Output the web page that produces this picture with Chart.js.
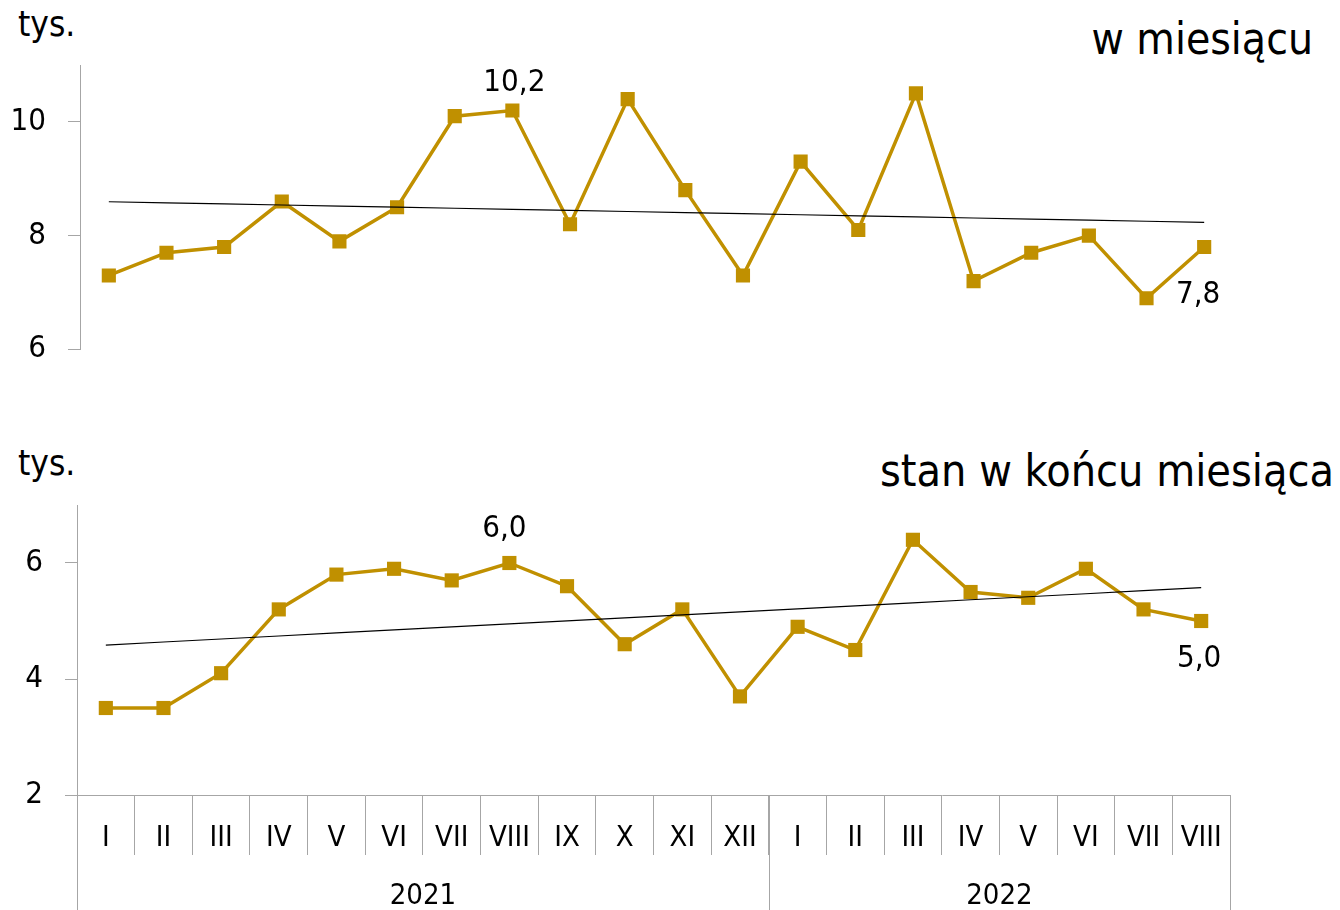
<!DOCTYPE html>
<html><head><meta charset="utf-8">
<script src="https://cdn.jsdelivr.net/npm/chart.js@4.4.1/dist/chart.umd.min.js"></script>
<style>
body{margin:0;width:1340px;height:910px;background:#fff;position:relative;overflow:hidden;font-family:'DejaVu Sans Condensed','Roboto',sans-serif;}
.t{position:absolute;color:#000;white-space:nowrap;line-height:1}
canvas{position:absolute;left:0}
</style></head><body>
<div class="t" style="left:18px;top:7px;font-size:35px">tys.</div>
<div class="t" style="right:27px;top:17px;font-size:44px">w miesiącu</div>
<div class="t" style="left:18px;top:446px;font-size:35px">tys.</div>
<div class="t" style="right:6px;top:449px;font-size:44.5px">stan w końcu miesiąca</div>
<canvas id="c1" width="1340" height="390" style="top:0"></canvas>
<canvas id="c2" width="1340" height="470" style="top:440px"></canvas>
<script>
const months = ['I','II','III','IV','V','VI','VII','VIII','IX','X','XI','XII','I','II','III','IV','V','VI','VII','VIII'];
const years = ['2021','2022'];
const monthsPerYear = [12, 8];
const monthly = [7.3,7.7,7.8,8.6,7.9,8.5,10.1,10.2,8.2,10.4,8.8,7.3,9.3,8.1,10.5,7.2,7.7,8.0,6.9,7.8];
const stock = [3.5,3.5,4.1,5.2,5.8,5.9,5.7,6.0,5.6,4.6,5.2,3.7,4.9,4.5,6.4,5.5,5.4,5.9,5.2,5.0];
const monthlyTicks = [6,8,10];
const stockTicks = [2,4,6];

const FONT = "'DejaVu Sans Condensed','Roboto',sans-serif";
const GOLD = '#C09000';
const AXIS = '#a6a6a6';

function trend(vals){
  const n = vals.length; let sx=0, sy=0, sxy=0, sxx=0;
  vals.forEach((v,i)=>{sx+=i; sy+=v; sxy+=i*v; sxx+=i*i;});
  const b = (n*sxy - sx*sy)/(n*sxx - sx*sx); const a = (sy - b*sx)/n;
  return vals.map((_,i)=>a+b*i);
}
const fmt = v => v.toFixed(1).replace('.', ',');

const labelPlugin = {
  id:'valLabels',
  afterDatasetsDraw(chart, args, opts){
    const ctx = chart.ctx; const meta = chart.getDatasetMeta(0);
    ctx.save(); ctx.fillStyle='#000'; ctx.font = opts.font; ctx.textAlign='center'; ctx.textBaseline='middle';
    (opts.items||[]).forEach(it=>{
      const p = meta.data[it.index];
      ctx.fillText(fmt(chart.data.datasets[0].data[it.index]), p.x+it.dx, p.y+it.dy);
    });
    ctx.restore();
  }
};

const yearPlugin = {
  id:'yearAxis',
  afterDraw(chart, args, opts){
    if(!opts.enabled) return;
    const ctx = chart.ctx, xs = chart.scales.x, area = chart.chartArea;
    const half = (xs.getPixelForValue(1)-xs.getPixelForValue(0))/2;
    const bottom = chart.height;
    ctx.save(); ctx.strokeStyle = AXIS; ctx.lineWidth = 1;
    ctx.beginPath();
    ctx.moveTo(Math.round(area.left)+0.5, area.bottom); ctx.lineTo(Math.round(area.left)+0.5, bottom);
    let idx = 0;
    ctx.fillStyle='#000'; ctx.font = opts.font; ctx.textAlign='center'; ctx.textBaseline='middle';
    years.forEach((y,k)=>{
      const start = xs.getPixelForValue(idx) - half;
      idx += monthsPerYear[k];
      const end = xs.getPixelForValue(idx-1) + half;
      ctx.moveTo(Math.round(end)+0.5, area.bottom); ctx.lineTo(Math.round(end)+0.5, bottom);
      ctx.fillText(y, (start+end)/2, area.bottom + 101);
    });
    ctx.stroke(); ctx.restore();
  }
};

function makeChart(id, data, ticks, yMin, yMax, pad, labelItems, bottomAxis){
  return new Chart(document.getElementById(id), {
    type:'line',
    data:{labels: months, datasets:[
      {data: data, borderColor: GOLD, backgroundColor: GOLD, borderWidth: 3.5, pointStyle:'rect', pointRadius: 10, pointHoverRadius:10, pointBorderWidth:0, tension:0, order:2},
      {data: trend(data), borderColor:'#000', borderWidth:1.2, pointRadius:0, tension:0, order:1}
    ]},
    options:{
      responsive:false, animation:false, events:[],
      layout:{padding: pad},
      plugins:{legend:{display:false}, tooltip:{enabled:false},
        valLabels:{items: labelItems, font: "31px " + FONT},
        yearAxis:{enabled: bottomAxis, font: "29px " + FONT}},
      scales:{
        x:{ display: bottomAxis, offset:true,
            grid:{display:true, offset:true, drawOnChartArea:false, drawTicks:true, tickLength:60, color:AXIS, lineWidth:1},
            border:{display:true, color:AXIS, width:1},
            ticks:{font:{family:FONT, size:29}, color:'#000', padding:-34, maxRotation:0, autoSkip:false},
            afterFit(s){ s.height = bottomAxis ? 115 : 0; } },
        y:{ min:yMin, max:yMax,
            afterBuildTicks(s){ s.ticks = ticks.map(v=>({value:v})); },
            grid:{display:true, drawOnChartArea:false, drawTicks:true, tickLength:12, color:AXIS, lineWidth:1},
            border:{display:true, color:AXIS, width:1},
            ticks:{font:{family:FONT, size:31}, color:'#000', padding:22},
            afterFit(s){ s.width = pad.yw; } }
      }
    },
    plugins:[labelPlugin, yearPlugin]
  });
}

makeChart('c1', monthly, monthlyTicks, 6, 11, {top:65, bottom:21, left:0, right:107, yw:80}, 
  [{index:7, dx:2, dy:-28}, {index:19, dx:-6, dy:48}], false);
makeChart('c2', stock, stockTicks, 2, 7, {top:65, bottom:0, left:0, right:110, yw:77},
  [{index:7, dx:-5, dy:-34}, {index:19, dx:-2, dy:38}], true);
</script>
</body></html>
